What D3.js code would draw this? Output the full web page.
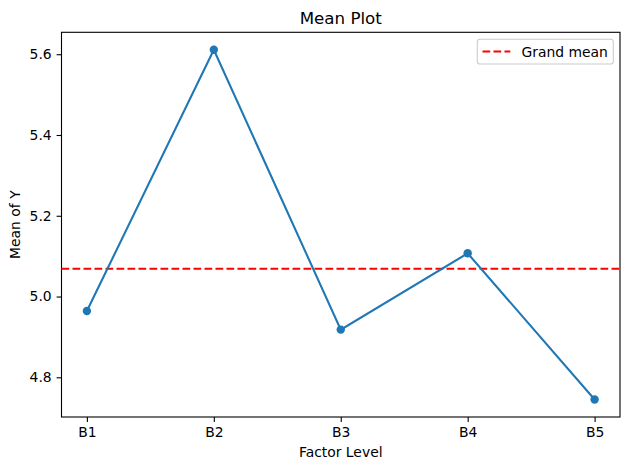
<!DOCTYPE html>
<html>
<head>
<meta charset="utf-8">
<script src="https://cdn.jsdelivr.net/npm/d3@7"></script>
<style>
  body { margin: 0; background: #fff; }
  svg text { font-family: "DejaVu Sans", sans-serif; fill: #000; }
</style>
</head>
<body>
<div id="chart"></div>
<script>
const levels = ['B1', 'B2', 'B3', 'B4', 'B5'];
const means = [4.964, 5.611, 4.918, 5.107, 4.745];
const grandMean = 5.069;
const yTicks = [4.8, 5.0, 5.2, 5.4, 5.6];

const width = 630;
const height = 470;
const margin = { top: 32.3, right: 10, bottom: 53, left: 61.5 };

const svg = d3.select('#chart').append('svg')
  .attr('width', width)
  .attr('height', height);

const x = d3.scaleLinear()
  .domain([-0.2, levels.length - 1 + 0.2])
  .range([margin.left, width - margin.right]);

const lo = d3.min(means);
const hi = d3.max(means);
const pad = (hi - lo) * 0.05;
const y = d3.scaleLinear()
  .domain([lo - pad, hi + pad])
  .range([height - margin.bottom, margin.top]);

// x axis
const xAxis = svg.append('g')
  .attr('transform', `translate(0,${height - margin.bottom})`)
  .call(d3.axisBottom(x)
    .tickValues(d3.range(levels.length))
    .tickFormat((d) => levels[d])
    .tickSize(4.9)
    .tickPadding(4.9));
xAxis.select('.domain').remove();
xAxis.selectAll('line').attr('stroke-width', 1.1);
xAxis.selectAll('text').attr('font-size', 13.9).attr('font-family', 'DejaVu Sans');

// y axis
const yAxis = svg.append('g')
  .attr('transform', `translate(${margin.left},0)`)
  .call(d3.axisLeft(y)
    .tickValues(yTicks)
    .tickFormat(d3.format('.1f'))
    .tickSize(4.9)
    .tickPadding(4.9));
yAxis.select('.domain').remove();
yAxis.selectAll('line').attr('stroke-width', 1.1);
yAxis.selectAll('text').attr('font-size', 13.9).attr('font-family', 'DejaVu Sans');

// frame
svg.append('rect')
  .attr('x', margin.left)
  .attr('y', margin.top)
  .attr('width', width - margin.right - margin.left)
  .attr('height', height - margin.bottom - margin.top)
  .attr('fill', 'none')
  .attr('stroke', '#000')
  .attr('stroke-width', 1.1);

// grand mean line
svg.append('line')
  .attr('x1', margin.left)
  .attr('x2', width - margin.right)
  .attr('y1', y(grandMean))
  .attr('y2', y(grandMean))
  .attr('stroke', 'red')
  .attr('stroke-width', 2.08)
  .attr('stroke-dasharray', '7.7,3.3');

// mean line + markers
const line = d3.line()
  .x((d, i) => x(i))
  .y((d) => y(d));

svg.append('path')
  .datum(means)
  .attr('d', line)
  .attr('fill', 'none')
  .attr('stroke', '#1f77b4')
  .attr('stroke-width', 2.08);

svg.selectAll('circle.pt')
  .data(means)
  .enter()
  .append('circle')
  .attr('class', 'pt')
  .attr('cx', (d, i) => x(i))
  .attr('cy', (d) => y(d))
  .attr('r', 4.2)
  .attr('fill', '#1f77b4');

// title and labels
svg.append('text')
  .attr('x', (margin.left + width - margin.right) / 2)
  .attr('y', 24)
  .attr('text-anchor', 'middle')
  .attr('font-size', 16.7)
  .text('Mean Plot');

svg.append('text')
  .attr('x', (margin.left + width - margin.right) / 2)
  .attr('y', 457)
  .attr('text-anchor', 'middle')
  .attr('font-size', 13.9)
  .text('Factor Level');

svg.append('text')
  .attr('transform', `translate(20,${(margin.top + height - margin.bottom) / 2}) rotate(-90)`)
  .attr('text-anchor', 'middle')
  .attr('font-size', 13.9)
  .text('Mean of Y');

// legend
const lg = svg.append('g');
lg.append('rect')
  .attr('x', 477.3)
  .attr('y', 39.3)
  .attr('width', 136)
  .attr('height', 24.7)
  .attr('rx', 2.8)
  .attr('fill', '#fff')
  .attr('fill-opacity', 0.8)
  .attr('stroke', '#ccc')
  .attr('stroke-width', 1.1);
lg.append('line')
  .attr('x1', 482.5)
  .attr('x2', 510.3)
  .attr('y1', 51.5)
  .attr('y2', 51.5)
  .attr('stroke', 'red')
  .attr('stroke-width', 2.08)
  .attr('stroke-dasharray', '7.7,3.3');
lg.append('text')
  .attr('x', 521.5)
  .attr('y', 56.5)
  .attr('font-size', 13.9)
  .text('Grand mean');
</script>
</body>
</html>
